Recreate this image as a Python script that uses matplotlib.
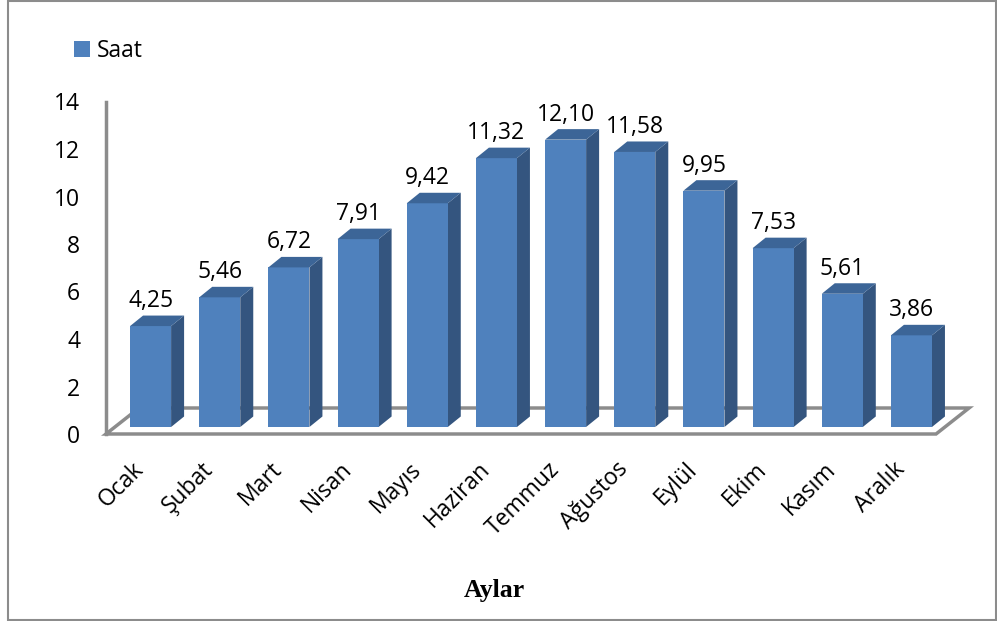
import matplotlib.pyplot as plt
from matplotlib.patches import Polygon, Rectangle

plt.rcParams['font.family'] = ['Open Sans', 'DejaVu Sans']

months = ["Ocak", "Şubat", "Mart", "Nisan", "Mayıs", "Haziran",
          "Temmuz", "Ağustos", "Eylül", "Ekim", "Kasım", "Aralık"]
hours = [4.25, 5.46, 6.72, 7.91, 9.42, 11.32, 12.10, 11.58, 9.95, 7.53, 5.61, 3.86]
value_labels = ["4,25", "5,46", "6,72", "7,91", "9,42", "11,32",
                "12,10", "11,58", "9,95", "7,53", "5,61", "3,86"]
yticks = [0, 2, 4, 6, 8, 10, 12, 14]

front_c = "#4f81bd"
top_c = "#3c6597"
side_c = "#34557f"
grey = "#8c8c8c"
fs = 16.5

W, H = 997, 621
fig = plt.figure(figsize=(W / 100, H / 100), dpi=100)

# axes placed in pixels: floor front edge at y=434, left axis at x=106
px_cat = 69.17
px_val = 23.75
left, right, bottom, top = 106, 980, 434, 95
ax = fig.add_axes([left / W, 1 - bottom / H, (right - left) / W, (bottom - top) / H])
ax.set_xlim(-0.5, -0.5 + (right - left) / px_cat)
ax.set_ylim(0, (bottom - top) / px_val)

# depth geometry of the fake 3d look (data units)
floor_dx, floor_dy = 33 / px_cat, 26 / px_val
base = 7 / px_val
shift, width = -0.152, 0.593
dx, dy = 13 / px_cat, 10.5 / px_val

n = len(months)
floor = Polygon([(-0.5, 0), (n - 0.5, 0), (n - 0.5 + floor_dx, floor_dy), (-0.5 + floor_dx, floor_dy)],
                closed=True, fill=False, edgecolor=grey, lw=2.5, zorder=1, clip_on=False)
ax.add_patch(floor)

xs = [i + shift for i in range(n)]
bars = ax.bar(xs, hours, width=width, bottom=base, align='edge', color=front_c,
              edgecolor='none', zorder=3, label="Saat")

for x0, v, lab in zip(xs, hours, value_labels):
    x1 = x0 + width
    t = base + v
    ax.add_patch(Polygon([(x1, base), (x1 + dx, base + dy), (x1 + dx, t + dy), (x1, t)],
                         closed=True, color=side_c, lw=0, zorder=2, clip_on=False))
    ax.add_patch(Polygon([(x0, t), (x0 + dx, t + dy), (x1 + dx, t + dy), (x1, t)],
                         closed=True, color=top_c, lw=0, zorder=3, clip_on=False))
    ax.text(x0 + width / 2, t + dy + 0.36, lab, ha='center', va='baseline', fontsize=fs)

for s in ['top', 'right', 'bottom']:
    ax.spines[s].set_visible(False)
ax.spines['left'].set_color(grey)
ax.spines['left'].set_linewidth(2.5)
ax.spines['left'].set_bounds(0, 14)

ax.set_yticks(yticks)
ax.set_yticklabels([str(v) for v in yticks])
ax.tick_params(axis='y', length=0, pad=18.5, labelsize=fs)
ax.set_xticks(range(n))
ax.set_xticklabels(months)
ax.tick_params(axis='x', length=0, pad=23, labelsize=fs)
plt.setp(ax.get_xticklabels(), rotation=45, ha='right', va='center', rotation_mode='anchor')

fig.text(494 / W, 1 - 597 / H, "Aylar", ha='center', va='baseline', fontsize=18.5,
         fontweight='bold', family='Liberation Serif')

fig.legend(handles=[bars], labels=["Saat"], loc='center left',
           bbox_to_anchor=(74 / W, 1 - 51 / H), frameon=False, fontsize=fs,
           handlelength=0.68, handleheight=0.68, handletextpad=0.33, borderpad=0, borderaxespad=0)

# outer chart border
fig.add_artist(Rectangle((8 / W, 1 / H), 988 / W, 619 / H, transform=fig.transFigure,
                         fill=False, edgecolor=grey, lw=1.5))

fig.savefig("out.png", dpi=100)
